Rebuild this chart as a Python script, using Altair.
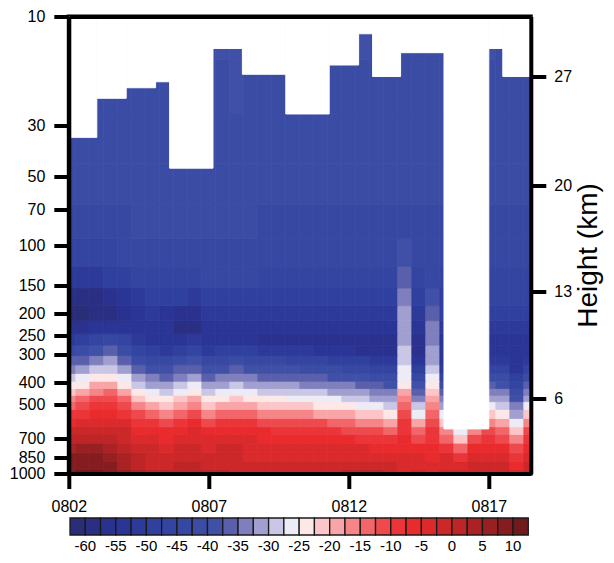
import json
import math
import altair as alt
import pandas as pd

FONT = "Liberation Sans"

# ---------------- data ----------------
# observation times, days after 0802 00Z (12-hourly)
TIMES = [0.0, 0.5, 1.0, 1.5, 2.0, 2.5, 3.0, 3.5, 4.0, 4.5, 5.0, 5.5, 6.0, 6.5, 7.0, 7.5, 8.0,
         8.5, 9.0, 9.5, 10.0, 10.5, 11.0, 11.5, 12.0, 12.5, 13.0, 13.5, 14.0, 14.5, 15.0, 15.5,
         16.0, 16.5]

LEVELS = [1000, 925, 850, 775, 700, 650, 600, 550, 500, 470, 440, 410, 380, 350, 320, 290,
          260, 230, 200, 170, 140, 110, 80, 55, 35, 20, 12]

# temperature (deg C) at each level, one value per observation time
T_1000 = [9.9, 10.9, 10.7, 9.4, 5.0, 2.5, 0.5, 1.0, 1.5, 1.8, 1.0, 0.5, -0.5, -0.8, -1.0, -1.2, -1.2,
          -1.5, -1.0, -0.5, 0.3, 0.5, 0.3, -0.5, -3.0, -1.5, -3.0, -1.5, -2.0, -1.5, -1.5, -1.2, -3.6, -1.0]
T_925 = [8.8, 9.7, 9.5, 8.3, 4.2, 1.6, -0.5, -0.1, 0.4, 0.7, -0.1, -0.5, -1.4, -1.8, -2.0, -2.2, -2.2,
         -2.4, -2.0, -1.5, -0.8, -0.6, -0.9, -1.7, -4.0, -2.7, -4.0, -2.7, -4.0, -2.5, -2.4, -2.4, -5.5, -2.0]
T_850 = [7.5, 8.4, 8.2, 7.0, 3.0, 0.4, -1.4, -1.1, -0.6, -0.3, -1.1, -1.3, -2.2, -2.6, -2.8, -3.0, -3.1,
         -3.3, -3.2, -2.9, -2.6, -2.6, -2.9, -3.8, -5.0, -4.6, -5.5, -4.8, -8.0, -4.5, -3.9, -4.1, -7.8, -3.4]
T_775 = [4.8, 5.6, 5.9, 4.6, 1.4, -1.0, -2.2, -2.6, -1.8, -1.1, -2.6, -2.5, -2.3, -2.7, -2.9, -3.3, -3.4,
         -4.0, -4.2, -4.0, -4.6, -4.8, -5.1, -6.2, -6.0, -7.1, -7.0, -7.7, -14.5, -7.5, -5.8, -6.5, -11.4, -5.4]
T_700 = [1.1, 1.6, 2.4, 1.7, -0.4, -3.1, -4.6, -5.1, -3.9, -2.9, -5.0, -4.7, -4.2, -4.7, -5.1, -5.4, -5.7,
         -6.3, -6.6, -6.9, -7.5, -8.1, -8.7, -10.0, -7.0, -11.4, -8.5, -12.6, -21.0, -12.0, -9.0, -10.1, -16.9, -8.9]
T_650 = [-2.0, -1.2, -0.3, -0.4, -2.2, -5.3, -6.9, -7.4, -5.9, -4.7, -7.3, -6.9, -6.1, -6.8, -7.3, -7.6, -7.9,
         -8.5, -9.0, -9.6, -10.3, -11.2, -12.2, -13.5, -8.0, -15.0, -10.0, -16.6, -25.5, -17.0, -12.3, -13.6, -21.4, -12.2]
T_600 = [-5.1, -4.2, -2.9, -2.9, -4.7, -7.9, -10.0, -10.9, -8.6, -7.1, -10.6, -10.0, -8.8, -9.8, -10.6, -10.9, -11.3,
         -11.9, -12.5, -13.4, -14.1, -15.1, -16.4, -18.0, -9.5, -19.9, -12.0, -21.5, -29.0, -22.0, -16.4, -18.0, -25.9, -16.4]
T_550 = [-8.9, -7.6, -6.0, -5.4, -7.6, -12.2, -14.8, -15.8, -13.1, -11.2, -15.4, -14.8, -13.4, -14.5, -15.4, -15.8, -16.3,
         -17.1, -17.8, -18.9, -19.8, -21.1, -22.3, -23.9, -11.5, -25.7, -14.5, -27.0, -33.0, -27.0, -22.3, -23.9, -30.7, -22.3]
T_500 = [-12.8, -11.3, -8.9, -8.1, -11.3, -16.7, -19.9, -20.9, -17.8, -15.4, -20.6, -19.9, -18.1, -19.6, -20.6, -20.9, -21.4,
         -22.3, -23.0, -24.1, -25.0, -26.0, -27.0, -28.3, -14.0, -29.8, -17.0, -31.1, -37.0, -31.0, -27.0, -28.3, -34.8, -27.0]
T_470 = [-16.1, -14.4, -11.8, -10.9, -14.4, -20.6, -23.8, -24.8, -21.7, -19.3, -24.4, -23.8, -22.0, -23.4, -24.4, -24.8, -25.3,
         -25.9, -26.5, -27.4, -28.1, -29.1, -30.1, -31.4, -16.5, -32.9, -19.5, -34.2, -40.0, -34.0, -30.1, -31.4, -37.9, -30.1]
T_440 = [-20.2, -18.3, -15.1, -14.1, -18.3, -24.6, -27.3, -28.1, -25.6, -23.3, -27.8, -27.3, -25.9, -27.0, -27.8, -28.1, -28.5,
         -29.2, -29.8, -30.6, -31.4, -32.4, -33.4, -34.7, -19.5, -36.2, -22.0, -37.5, -43.0, -37.5, -33.4, -34.7, -41.4, -33.4]
T_410 = [-24.6, -22.8, -19.5, -18.3, -22.8, -28.3, -30.8, -31.7, -29.2, -27.2, -31.4, -30.8, -29.4, -30.6, -31.4, -31.7, -32.0,
         -32.7, -33.3, -34.2, -34.9, -35.9, -36.9, -38.2, -23.0, -39.7, -25.0, -41.2, -46.0, -41.0, -36.9, -38.2, -45.6, -36.9]
T_380 = [-28.5, -27.0, -24.3, -23.1, -27.0, -32.0, -34.6, -35.5, -33.0, -31.0, -35.2, -34.6, -33.2, -34.4, -35.2, -35.5, -35.9,
         -36.5, -37.1, -38.0, -38.7, -39.7, -40.8, -42.4, -26.0, -44.9, -27.5, -46.5, -49.0, -45.0, -40.8, -42.4, -50.0, -40.8]
T_350 = [-32.6, -31.1, -28.5, -27.6, -31.1, -36.2, -38.7, -39.6, -37.0, -35.1, -39.3, -38.7, -37.3, -38.5, -39.3, -39.6, -39.9,
         -40.7, -41.4, -42.5, -43.4, -44.6, -45.8, -47.3, -27.5, -50.0, -29.5, -51.0, -52.0, -50.0, -45.8, -47.3, -53.0, -45.8]
T_320 = [-37.0, -35.6, -33.0, -32.0, -35.6, -40.7, -43.8, -44.8, -41.8, -39.6, -44.4, -43.8, -42.1, -43.5, -44.4, -44.8, -45.3,
         -46.1, -46.8, -47.8, -48.7, -49.9, -51.0, -52.5, -28.5, -54.0, -31.0, -54.0, -54.0, -53.0, -51.0, -52.0, -54.0, -51.0]
T_290 = [-44.0, -41.5, -38.5, -37.5, -40.5, -46.6, -49.7, -50.7, -47.7, -45.3, -50.3, -49.7, -48.0, -49.4, -50.3, -50.7, -51.2,
         -52.0, -53.0, -54.0, -55.0, -55.5, -56.0, -56.5, -29.5, -56.0, -32.0, -55.0, -55.0, -55.0, -54.0, -54.0, -54.0, -54.0]
T_260 = [-51.0, -50.0, -47.0, -45.0, -47.0, -52.0, -53.0, -53.5, -53.0, -51.0, -54.0, -55.0, -55.0, -55.0, -55.5, -56.0, -56.0,
         -56.5, -57.0, -57.0, -57.0, -57.0, -57.0, -57.0, -30.5, -56.0, -33.0, -54.0, -54.0, -54.0, -53.0, -53.0, -53.0, -53.0]
T_230 = [-57.0, -56.5, -55.0, -53.0, -53.0, -55.0, -54.0, -55.0, -58.0, -58.0, -53.5, -54.0, -54.0, -54.0, -54.0, -54.0, -53.5,
         -53.5, -53.5, -53.0, -53.0, -53.0, -53.0, -53.0, -31.5, -54.0, -34.5, -52.0, -52.0, -52.0, -51.0, -51.0, -51.0, -51.0]
T_200 = [-60.5, -61.0, -60.0, -58.5, -57.0, -54.0, -52.0, -53.0, -56.0, -57.0, -52.0, -51.0, -51.0, -51.0, -51.0, -51.0, -51.0,
         -51.0, -51.0, -51.0, -51.0, -51.0, -51.0, -51.0, -32.5, -51.0, -37.0, -50.0, -50.0, -50.0, -49.0, -49.0, -49.0, -49.0]
T_170 = [-58.0, -58.5, -58.0, -57.0, -55.0, -51.0, -49.0, -49.0, -50.0, -51.0, -48.0, -48.0, -48.0, -48.0, -48.0, -48.5, -48.5,
         -48.5, -49.0, -49.0, -49.0, -49.5, -49.5, -49.5, -34.0, -49.0, -40.0, -48.0, -48.0, -48.0, -47.0, -47.0, -47.0, -47.0]
T_140 = [-51.0, -51.0, -51.0, -50.0, -49.0, -47.0, -46.0, -46.0, -46.0, -46.0, -45.0, -45.0, -45.0, -45.0, -45.5, -46.0, -46.0,
         -46.0, -46.5, -46.5, -47.0, -47.0, -47.0, -47.0, -36.5, -47.0, -43.0, -46.0, -46.0, -46.0, -45.5, -45.5, -45.5, -45.5]
T_110 = [-46.0, -46.0, -46.0, -46.0, -45.0, -44.0, -44.0, -44.0, -44.0, -44.0, -43.5, -43.5, -43.5, -43.5, -44.0, -44.0, -44.0,
         -44.0, -44.5, -44.5, -45.0, -45.0, -45.0, -45.0, -40.0, -45.0, -44.5, -44.5, -44.5, -44.5, -44.0, -44.0, -44.0, -44.0]
T_080 = [-43.0, -43.0, -43.0, -43.0, -42.8, -42.2, -42.2, -42.2, -42.2, -42.2, -42.2, -42.2, -42.2, -42.2, -42.8, -43.0, -43.0,
         -43.0, -42.8, -42.8, -42.8, -42.8, -42.8, -42.8, -42.8, -42.8, -42.8, -42.8, -42.8, -42.8, -42.6, -42.6, -42.6, -42.6]
T_055 = [-42.0, -42.0, -41.8, -41.8, -41.8, -41.5, -41.5, -41.8, -42.0, -42.0, -41.8, -41.5, -41.5, -41.5, -41.8, -42.0, -42.0,
         -42.0, -42.0, -42.0, -42.0, -42.0, -42.0, -42.0, -42.0, -42.0, -42.0, -42.0, -42.0, -42.0, -41.8, -41.8, -42.0, -42.0]
T_035 = [-41.5, -41.5, -41.5, -41.5, -41.5, -41.2, -41.0, -41.0, -41.5, -41.5, -41.5, -41.0, -41.0, -41.0, -41.0, -41.5, -41.5,
         -41.5, -41.5, -41.5, -41.5, -41.5, -41.5, -41.5, -41.5, -41.5, -41.5, -41.5, -41.5, -41.5, -41.5, -41.5, -41.5, -41.5]
T_020 = [-41.0, -41.0, -41.0, -41.0, -41.0, -41.0, -41.0, -41.0, -41.0, -41.0, -41.0, -40.5, -40.0, -40.5, -40.5, -41.0, -41.0,
         -41.0, -41.0, -41.0, -41.0, -40.5, -41.0, -41.0, -41.0, -41.0, -41.0, -41.0, -41.0, -41.0, -40.5, -41.0, -41.0, -41.0]
T_012 = [-41.0, -41.0, -41.0, -41.0, -41.0, -41.0, -41.0, -41.0, -41.0, -41.0, -41.0, -40.0, -39.0, -40.0, -40.0, -41.0, -41.0,
         -41.0, -41.0, -41.0, -41.0, -39.5, -41.0, -41.0, -41.0, -41.0, -41.0, -41.0, -41.0, -41.0, -40.0, -41.0, -41.0, -41.0]

T_ROWS = [T_1000, T_925, T_850, T_775, T_700, T_650, T_600, T_550, T_500, T_470, T_440, T_410,
          T_380, T_350, T_320, T_290, T_260, T_230, T_200, T_170, T_140, T_110, T_080, T_055,
          T_035, T_020, T_012]

# missing data (drawn white): time spans and the highest pressure level reached (hPa)
MISS_START = [0.0, 1.0, 2.05, 3.1, 3.6, 5.15, 6.2, 7.75, 9.3, 10.35, 10.85, 11.85, 13.4, 15.0, 15.5]
MISS_END = [1.0, 2.05, 3.1, 3.6, 5.15, 6.2, 7.75, 9.3, 10.35, 10.85, 11.85, 13.4, 15.0, 15.5, 16.5]
MISS_TOP = [33.8, 22.8, 20.5, 19.3, 46.1, 13.8, 17.9, 26.7, 16.3, 11.9, 18.3, 14.4, 638.0, 13.8, 18.3]

# axes
T_RANGE = [0.0, 16.5]
P_RANGE = [10, 1000]
DATE_TICKS = [0, 5, 10, 15]
DATE_LABELS = ["0802", "0807", "0812", "0817"]
P_TICKS = [10, 30, 50, 70, 100, 150, 200, 250, 300, 400, 500, 700, 850, 1000]
KM_TICK_P = [470, 160, 55, 18.3]
KM_LABELS = ["6", "13", "20", "27"]

# colour bar
CBAR_EDGES = [-62.5, -60, -57.5, -55, -52.5, -50, -47.5, -45, -42.5, -40, -37.5, -35, -32.5, -30,
              -27.5, -25, -22.5, -20, -17.5, -15, -12.5, -10, -7.5, -5, -2.5, 0, 2.5, 5, 7.5, 10, 12.5]
CBAR_COLORS = ["#2a2d78", "#2b2f84", "#2b318e", "#2a3596", "#2d3a9a", "#30409e", "#3444a1",
               "#3748a3", "#3b4ca5", "#4150a7", "#5a5fab", "#7f7fbd", "#a19fcf", "#c9c7e5",
               "#ecebf6", "#fde8e8", "#fcc6c8", "#f9a4a6", "#f68588", "#f26569", "#ee4a4e",
               "#eb3538", "#e92b2d", "#da2a2c", "#cc2729", "#bd2527", "#ab2225", "#982023",
               "#851d20", "#701a1d"]
CBAR_LABELS = [-60, -55, -50, -45, -40, -35, -30, -25, -20, -15, -10, -5, 0, 5, 10]

# ---------------- tables ----------------
half = (TIMES[1] - TIMES[0]) / 2
rows = []
for j, p in enumerate(LEVELS):
    p_lo = P_RANGE[1] if j == 0 else math.sqrt(p * LEVELS[j - 1])
    p_hi = P_RANGE[0] if j == len(LEVELS) - 1 else math.sqrt(p * LEVELS[j + 1])
    for i, t in enumerate(TIMES):
        rows.append({"t0": max(t - half, T_RANGE[0]), "t1": min(t + half, T_RANGE[1]),
                     "p0": p_lo, "p1": p_hi, "T": T_ROWS[j][i]})
field_df = pd.DataFrame(rows)

miss_df = pd.DataFrame({"ms": MISS_START, "me": MISS_END, "ptop": MISS_TOP,
                        "pmin": [P_RANGE[0]] * len(MISS_TOP)})

cb_df = pd.DataFrame({"lo": CBAR_EDGES[:-1], "hi": CBAR_EDGES[1:],
                      "mid": [(a + b) / 2 for a, b in zip(CBAR_EDGES[:-1], CBAR_EDGES[1:])]})
cbl_df = pd.DataFrame({"v": CBAR_LABELS, "lab": [str(v) for v in CBAR_LABELS]})

# ---------------- layout (pixels, plot-area coordinates) ----------------
W, H = 462, 457
CB_X_RANGE = [1.2, 459.5]          # colour bar left/right
CB_Y_RANGE = [518.5, 501.5]        # colour bar bottom/top (below the plot)
CB_LABEL_POS = -0.25               # label row, in colour-bar units

# ---------------- chart ----------------
thresholds = CBAR_EDGES[1:-1]
color_scale = alt.Scale(type="threshold", domain=thresholds, range=CBAR_COLORS)
xscale = alt.Scale(domain=T_RANGE, nice=False, zero=False)
yscale = alt.Scale(type="log", domain=P_RANGE, reverse=True, nice=False)
cbx = alt.Scale(domain=[CBAR_EDGES[0], CBAR_EDGES[-1]], range=CB_X_RANGE, nice=False, zero=False)
cby = alt.Scale(domain=[0, 1], range=CB_Y_RANGE, nice=False, zero=False)

axis_style = dict(grid=False, tickSize=15, tickWidth=4, domainWidth=4, domainColor="black",
                  tickColor="black", labelColor="black", labelFontSize=16, labelFont=FONT,
                  labelFlush=False, labelOverlap=False, zindex=1)

x_label_expr = f"{json.dumps(DATE_LABELS)}[indexof({json.dumps(DATE_TICKS)}, datum.value)]"
km_label_expr = f"{json.dumps(KM_LABELS)}[indexof({json.dumps(KM_TICK_P)}, datum.value)]"

field = alt.Chart(field_df).mark_rect(strokeWidth=0.8).encode(
    x=alt.X("t0:Q", scale=xscale,
            axis=alt.Axis(values=DATE_TICKS, labelExpr=x_label_expr, title=None,
                          labelPadding=10, **axis_style)),
    x2="t1:Q",
    y=alt.Y("p0:Q", scale=yscale,
            axis=alt.Axis(values=P_TICKS, format="d", title=None, labelPadding=9,
                          **axis_style)),
    y2="p1:Q",
    color=alt.Color("T:Q", scale=color_scale, legend=None),
    stroke=alt.Stroke("T:Q", scale=color_scale, legend=None),
)

mask = alt.Chart(miss_df).mark_rect(color="white", stroke="white", strokeWidth=1).encode(
    x=alt.X("ms:Q", scale=xscale, axis=None),
    x2="me:Q",
    y=alt.Y("ptop:Q", scale=yscale,
            axis=alt.Axis(orient="right", values=KM_TICK_P, labelExpr=km_label_expr,
                          title="Height (km)", titleFont=FONT, titleFontSize=28,
                          titleFontWeight="normal", titleColor="black", titleAngle=270,
                          titleBaseline="top", titleAlign="center", titleX=44, titleY=238.5,
                          labelPadding=8, **axis_style)),
    y2="pmin:Q",
)

frame_top = alt.Chart(miss_df).mark_rect(opacity=0).encode(
    x=alt.X("ms:Q", scale=xscale,
            axis=alt.Axis(orient="top", labels=False, ticks=False, title=None, grid=False,
                          domainWidth=4, domainColor="black", zindex=1)),
    x2="me:Q",
    y=alt.Y("ptop:Q", scale=yscale, axis=None),
    y2="pmin:Q",
)

cbar = alt.Chart(cb_df).mark_rect(stroke="#1a1a1a", strokeWidth=1.3).encode(
    x=alt.X("lo:Q", scale=cbx, axis=None),
    x2="hi:Q",
    y=alt.datum(0, scale=cby, axis=None),
    y2=alt.datum(1),
    color=alt.Color("mid:Q", scale=color_scale, legend=None),
)

cbar_labels = alt.Chart(cbl_df).mark_text(
    font=FONT, fontSize=15, color="black", baseline="top", align="center"
).encode(
    x=alt.X("v:Q", scale=cbx, axis=None),
    y=alt.datum(CB_LABEL_POS, scale=cby, axis=None),
    text="lab:N",
)

chart = alt.layer(field, mask, frame_top, cbar, cbar_labels).resolve_scale(
    x="independent", y="independent"
).properties(
    width=W, height=H,
    autosize=alt.AutoSizeParams(type="none"),
    padding={"left": 60.8, "top": 8.5, "right": 75, "bottom": 81.5},
).configure_view(stroke="black", strokeWidth=4)

chart.save("out.html", embed_options={"renderer": "svg", "actions": False})
